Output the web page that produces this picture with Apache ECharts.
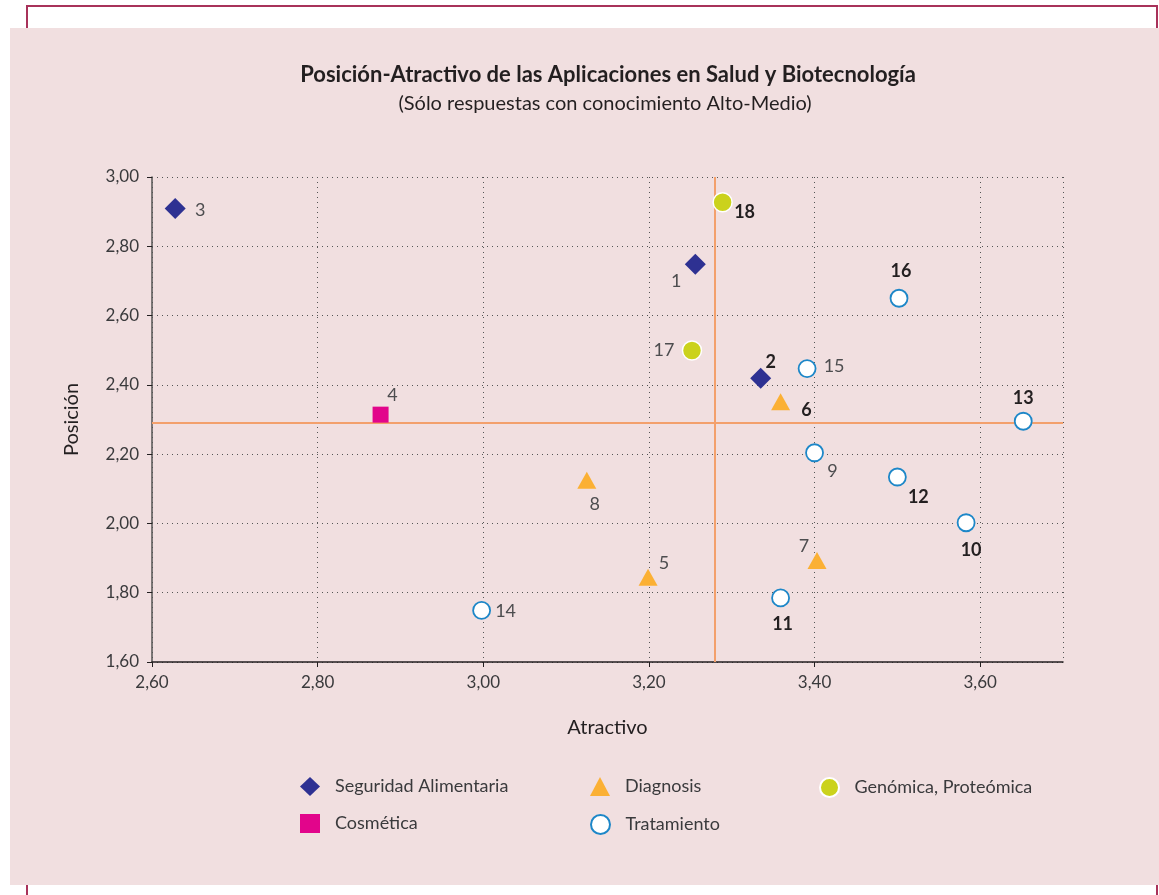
<!DOCTYPE html>
<html>
<head>
<meta charset="utf-8">
<script src="https://cdn.jsdelivr.net/npm/echarts@6/dist/echarts.min.js"></script>
<style>
  html, body { margin: 0; padding: 0; background: #fff; }
  #chart { width: 1159px; height: 895px; }
</style>
</head>
<body>
<div id="chart"></div>
<script>
// ids y valores (atractivo, posición) por grupo
const seguridadIds = ["1", "2", "3"];
const seguridadAtractivo = [3.256, 3.335, 2.628];
const seguridadPosicion = [2.748, 2.419, 2.909];

const cosmeticaIds = ["4"];
const cosmeticaAtractivo = [2.876];
const cosmeticaPosicion = [2.314];

const diagnosisIds = ["5", "6", "7", "8"];
const diagnosisAtractivo = [3.199, 3.359, 3.403, 3.125];
const diagnosisPosicion = [1.845, 2.351, 1.893, 2.125];

const genomicaIds = ["17", "18"];
const genomicaAtractivo = [3.252, 3.289];
const genomicaPosicion = [2.499, 2.927];

const tratamientoIds = ["9", "10", "11", "12", "13", "14", "15", "16"];
const tratamientoAtractivo = [3.400, 3.583, 3.359, 3.500, 3.652, 2.998, 3.391, 3.502];
const tratamientoPosicion = [2.204, 2.002, 1.785, 2.134, 2.295, 1.749, 2.447, 2.650];

// aplicaciones destacadas (etiqueta en negrita)
const destacadas = ["2", "6", "10", "11", "12", "13", "16", "18"];

// medias
const mediaAtractivo = 3.276;
const mediaPosicion = 2.294;

const xTicks = { min: 2.6, max: 3.7, interval: 0.2 };
const yTicks = { min: 1.6, max: 3.0, interval: 0.2 };

// donde va cada etiqueta respecto a su punto (px)
const labelOffsets = {
  "1": [-19, 17], "2": [10, -16], "3": [25, 2], "4": [12, -19],
  "5": [16, -14], "6": [26, 8], "7": [-13, -14], "8": [8, 24],
  "9": [18, 18], "10": [5, 27], "11": [2, 26], "12": [21, 20],
  "13": [0, -23], "14": [24, 1], "15": [27, -2], "16": [2, -27],
  "17": [-28, 0], "18": [22, 10]
};

const FONT = "Lato, 'Open Sans', sans-serif";
const coma = v => v.toFixed(2).replace(".", ",");

function puntos(ids, xs, ys) {
  return ids.map((id, i) => {
    const bold = destacadas.indexOf(id) >= 0;
    return {
      name: id,
      value: [xs[i], ys[i]],
      label: {
        offset: labelOffsets[id],
        fontWeight: bold ? "bold" : "normal",
        color: bold ? "#231f20" : "#4d4d4f",
        fontSize: 18
      }
    };
  });
}

const baseLabel = {
  show: true,
  position: "inside",
  formatter: "{b}",
  fontFamily: FONT,
  align: "center",
  verticalAlign: "middle"
};

const chart = echarts.init(document.getElementById("chart"));

const legendBase = {
  orient: "horizontal",
  padding: 0,
  itemWidth: 20,
  itemHeight: 19,
  selectedMode: false,
  textStyle: { fontFamily: FONT, fontSize: 18, color: "#3a3a3c", padding: [0, 0, 0, 10] }
};

chart.setOption({
  animation: false,
  graphic: [
    {
      type: "rect", z: -20, silent: true,
      shape: { x: 27, y: 6, width: 1130, height: 920 },
      style: { fill: "#fff", stroke: "#a8325a", lineWidth: 2 }
    },
    {
      type: "rect", z: -19, silent: true,
      shape: { x: 10, y: 28, width: 1149, height: 857 },
      style: { fill: "#f1dfe0" }
    }
  ],
  title: [
    {
      text: "Posición-Atractivo de las Aplicaciones en Salud y Biotecnología",
      left: 603, top: 59, textAlign: "center",
      textStyle: { fontFamily: FONT, fontSize: 22, fontWeight: "bold", color: "#231f20" }
    },
    {
      text: "(Sólo respuestas con conocimiento Alto-Medio)",
      left: 600, top: 89, textAlign: "center",
      textStyle: { fontFamily: FONT, fontSize: 20, fontWeight: "normal", color: "#231f20" }
    }
  ],
  legend: [
    Object.assign({ data: ["Seguridad Alimentaria"], left: 300, top: 777 }, legendBase),
    Object.assign({ data: ["Diagnosis"], left: 590, top: 777 }, legendBase),
    Object.assign({ data: ["Genómica, Proteómica"], left: 819, top: 777 }, legendBase),
    Object.assign({ data: ["Cosmética"], left: 300, top: 814 }, legendBase),
    Object.assign({ data: ["Tratamiento"], left: 590, top: 814 }, legendBase)
  ],
  grid: { left: 152, right: 96, top: 177, bottom: 233, containLabel: false },
  xAxis: {
    type: "value",
    min: xTicks.min, max: xTicks.max, interval: xTicks.interval,
    name: "Atractivo",
    nameLocation: "middle",
    nameGap: 56,
    nameTextStyle: { fontFamily: FONT, fontSize: 20, color: "#231f20" },
    axisLine: { show: true, onZero: false, lineStyle: { color: "#231f20", width: 1.5 } },
    axisTick: { show: true, length: 5, lineStyle: { color: "#231f20" } },
    axisLabel: {
      margin: 12, fontFamily: FONT, fontSize: 17, color: "#3a3a3c",
      showMaxLabel: false,
      formatter: v => (v > 3.65 ? "" : coma(v))
    },
    splitLine: { show: true, lineStyle: { color: "#555", type: [1, 4], width: 1 } }
  },
  yAxis: {
    type: "value",
    min: yTicks.min, max: yTicks.max, interval: yTicks.interval,
    name: "Posición",
    nameLocation: "middle",
    nameGap: 70,
    nameTextStyle: { fontFamily: FONT, fontSize: 20, color: "#231f20" },
    axisLine: { show: true, onZero: false, lineStyle: { color: "#555", width: 1.5 } },
    axisTick: { show: true, length: 5, lineStyle: { color: "#231f20" } },
    axisLabel: { margin: 13, fontFamily: FONT, fontSize: 17, color: "#3a3a3c", formatter: coma },
    splitLine: { show: true, lineStyle: { color: "#555", type: [1, 4], width: 1 } }
  },
  series: [
    {
      name: "Seguridad Alimentaria",
      type: "scatter",
      symbol: "diamond",
      symbolSize: 21,
      z: 5,
      itemStyle: { color: "#2e3192", opacity: 1 },
      label: baseLabel,
      data: puntos(seguridadIds, seguridadAtractivo, seguridadPosicion),
      markLine: {
        silent: true,
        symbol: "none",
        label: { show: false },
        lineStyle: { color: "#f3a06c", width: 2, type: "solid" },
        z: 3,
        data: [{ xAxis: mediaAtractivo }, { yAxis: mediaPosicion }]
      }
    },
    {
      name: "Diagnosis",
      type: "scatter",
      symbol: "triangle",
      symbolSize: [19, 17],
      z: 5,
      itemStyle: { color: "#fbb034", opacity: 1 },
      label: baseLabel,
      data: puntos(diagnosisIds, diagnosisAtractivo, diagnosisPosicion)
    },
    {
      name: "Genómica, Proteómica",
      type: "scatter",
      symbol: "circle",
      symbolSize: 19,
      z: 5,
      itemStyle: { color: "#cbd21c", borderColor: "#ffffff", borderWidth: 1.5, opacity: 1 },
      label: baseLabel,
      data: puntos(genomicaIds, genomicaAtractivo, genomicaPosicion)
    },
    {
      name: "Cosmética",
      type: "scatter",
      symbol: "rect",
      symbolSize: 16,
      z: 5,
      itemStyle: { color: "#e2058b", opacity: 1 },
      label: baseLabel,
      data: puntos(cosmeticaIds, cosmeticaAtractivo, cosmeticaPosicion)
    },
    {
      name: "Tratamiento",
      type: "scatter",
      symbol: "circle",
      symbolSize: 17,
      z: 5,
      itemStyle: { color: "#ffffff", borderColor: "#1d87c8", borderWidth: 1.8, opacity: 1 },
      label: baseLabel,
      data: puntos(tratamientoIds, tratamientoAtractivo, tratamientoPosicion)
    }
  ]
});
</script>
</body>
</html>
